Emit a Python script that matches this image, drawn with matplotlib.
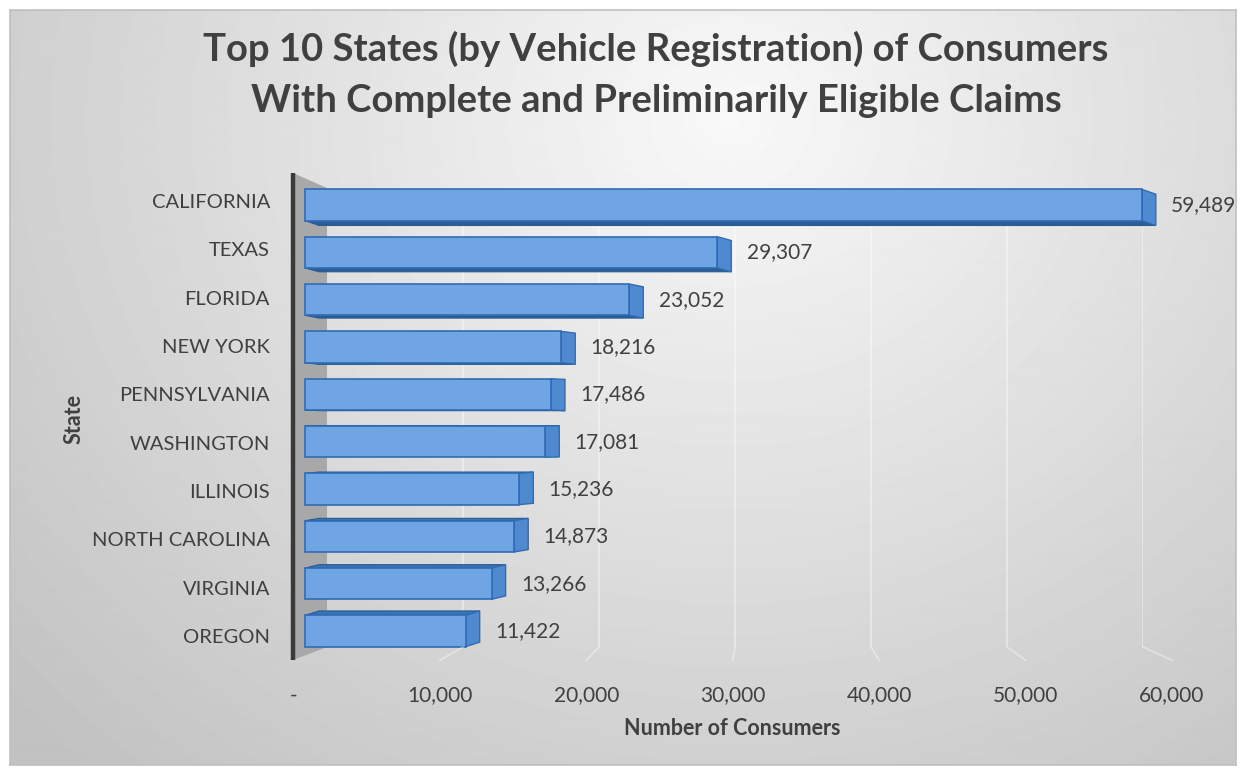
import numpy as np
import matplotlib
matplotlib.use("Agg")
import matplotlib.pyplot as plt
from matplotlib.patches import Polygon
from matplotlib.lines import Line2D

plt.rcParams['font.family'] = ['Lato', 'DejaVu Sans']

states = ["CALIFORNIA", "TEXAS", "FLORIDA", "NEW YORK", "PENNSYLVANIA",
          "WASHINGTON", "ILLINOIS", "NORTH CAROLINA", "VIRGINIA", "OREGON"]
consumers = [59489, 29307, 23052, 18216, 17486, 17081, 15236, 14873, 13266, 11422]
x_ticks = [0, 10000, 20000, 30000, 40000, 50000, 60000]
x_tick_labels = ["-", "10,000", "20,000", "30,000", "40,000", "50,000", "60,000"]

title = ("Top 10 States (by Vehicle Registration) of Consumers\n"
         "With Complete and Preliminarily Eligible Claims")

W, H = 1246, 775
TXT = "#404040"


def px_box(x0, y0, x1, y1):
    # pixel box (top-left origin) -> figure fraction rect
    return [x0 / W, 1 - y1 / H, (x1 - x0) / W, (y1 - y0) / H]


fig = plt.figure(figsize=(W / 100, H / 100), dpi=100)
fig.patch.set_facecolor("white")

# chart area background with a soft radial gradient
bg = fig.add_axes(px_box(10, 10, 1236, 765))
yy, xx = np.mgrid[0:755, 0:1226]
r = np.hypot((xx - 720) / 1.0, (yy - 110) / 0.9)
shade = np.clip(0.975 - 0.2 * r / 900, 0.76, 1)
bg.imshow(shade, cmap="gray", vmin=0, vmax=1, aspect="auto",
          extent=(0, 1, 0, 1), origin="upper")
bg.set_xlim(0, 1)
bg.set_ylim(0, 1)
bg.set_xticks([])
bg.set_yticks([])
for s in bg.spines.values():
    s.set_color("#c0c0c0")
    s.set_linewidth(1.2)

# left side wall
deco = fig.add_axes([0, 0, 1, 1])
deco.set_xlim(0, W)
deco.set_ylim(H, 0)
deco.axis("off")
deco.add_patch(Polygon([(293, 173), (327, 188), (327, 647), (293, 660)],
                       closed=True, facecolor="#a8a8a8", edgecolor="none"))

# back wall gridlines
back = fig.add_axes(px_box(327, 188, 1143, 647))
back.patch.set_alpha(0)
back.set_xlim(0, 60000)
back.set_ylim(0, 1)
for t in x_ticks[1:]:
    back.axvline(t, color="white", lw=1.2, alpha=0.45)
back.axis("off")

# front plane carrying the tick labels
n = len(states)
ypos = np.arange(n)[::-1]
front = fig.add_axes(px_box(293.5, 176.8, 1172, 660.2))
front.patch.set_alpha(0)
front.set_xlim(0, 60000)
front.set_ylim(-0.5, n - 0.5)
front.set_xticks(x_ticks)
front.set_xticklabels(x_tick_labels, fontsize=15, color=TXT)
front.set_yticks(ypos)
front.set_yticklabels(states, fontsize=14.5, color=TXT)
front.tick_params(axis="x", length=0, pad=18)
front.tick_params(axis="y", length=0, pad=17)
for s in front.spines.values():
    s.set_visible(False)
front.set_xlabel("Number of Consumers", fontsize=15.5, fontweight="bold",
                 color=TXT, labelpad=9)
front.set_ylabel("State", fontsize=15.5, fontweight="bold", color=TXT,
                 labelpad=5)

# faint floor lines joining the back wall to the front edge
for t in x_ticks[1:]:
    p0 = fig.transFigure.inverted().transform(back.transData.transform((t, 0)))
    p1 = fig.transFigure.inverted().transform(front.transData.transform((t, -0.5)))
    fig.add_artist(Line2D([p0[0], p1[0]], [p0[1], p1[1]],
                          transform=fig.transFigure, color="white",
                          lw=1.2, alpha=0.4))

fig.add_artist(Line2D([293 / W, 293 / W], [1 - 173 / H, 1 - 660 / H],
                      transform=fig.transFigure, color="#3a3a3a", lw=3.2,
                      solid_capstyle="butt"))

# bars
ax = fig.add_axes(px_box(305, 181.3, 1149, 654.7))
ax.patch.set_alpha(0)
ax.set_xlim(0, 60000)
ax.set_ylim(-0.5, n - 0.5)
ax.axis("off")

h = 0.33
dx = 14 * 60000 / 844
y_eye = 4.3
bars = ax.barh(ypos, consumers, height=2 * h, color="#6fa5e2",
               edgecolor="#2f6cb5", linewidth=1.2, zorder=3, clip_on=False)
for v, yc in zip(consumers, ypos):
    dy = (y_eye - yc) * 0.022
    yb, yt = yc - h, yc + h
    if dy < 0:
        face = [(0, yb), (v, yb), (v + dx, yb + dy), (dx, yb + dy)]
        fc = "#2d5d97"
    else:
        face = [(0, yt), (v, yt), (v + dx, yt + dy), (dx, yt + dy)]
        fc = "#3b72b4"
    ax.add_patch(Polygon(face, closed=True, facecolor=fc, clip_on=False,
                         edgecolor="#2a5a94", lw=0.8, zorder=2))
    cap = [(v, yb), (v, yt), (v + dx, yt + dy), (v + dx, yb + dy)]
    ax.add_patch(Polygon(cap, closed=True, facecolor="#4f8ad0", clip_on=False,
                         edgecolor="#2f6cb5", lw=1.0, zorder=2))
    ax.annotate(f"{v:,}", xy=(v + dx, yc), xytext=(11, 0),
                textcoords="offset points", va="center", ha="left",
                fontsize=15, color=TXT, annotation_clip=False)

fig.text(656 / W, 1 - 74 / H, title, ha="center", va="center",
         fontsize=27.5, fontweight="bold", color=TXT, linespacing=1.6)

fig.savefig("out.png", dpi=100)
